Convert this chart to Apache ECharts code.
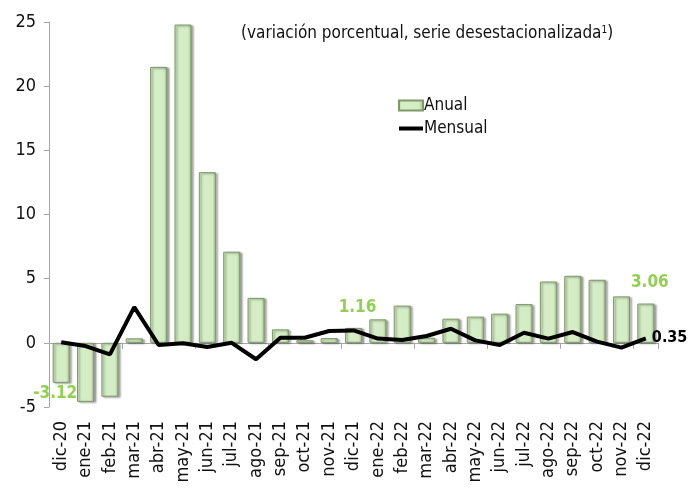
<!DOCTYPE html>
<html>
<head>
<meta charset="utf-8">
<script src="https://cdn.jsdelivr.net/npm/echarts@6/dist/echarts.min.js"></script>
<style>
  html, body { margin: 0; padding: 0; background: #fff; }
  #chart { width: 699px; height: 491px; }
</style>
</head>
<body>
<div id="chart"></div>
<script>
// months dic-20 .. dic-22
const months = ['dic-20', 'ene-21', 'feb-21', 'mar-21', 'abr-21', 'may-21', 'jun-21', 'jul-21',
  'ago-21', 'sep-21', 'oct-21', 'nov-21', 'dic-21', 'ene-22', 'feb-22', 'mar-22', 'abr-22',
  'may-22', 'jun-22', 'jul-22', 'ago-22', 'sep-22', 'oct-22', 'nov-22', 'dic-22'];

// annual change (bars)
const anual = [-3.12, -4.6, -4.2, 0.35, 21.5, 24.8, 13.3, 7.1, 3.5, 1.05, 0.2, 0.37, 1.16,
  1.83, 2.9, 0.4, 1.88, 2.04, 2.27, 3.02, 4.78, 5.22, 4.91, 3.62, 3.06];

// monthly change (line)
const mensual = [0.05, -0.25, -0.9, 2.78, -0.17, -0.04, -0.33, 0.0, -1.28, 0.4, 0.4, 0.92, 0.97,
  0.33, 0.22, 0.53, 1.1, 0.19, -0.17, 0.79, 0.33, 0.84, 0.09, -0.37, 0.35];

// which bars carry a value label
const labelledBars = [0, 12, 24];

const FONT = "'DejaVu Sans Condensed', 'Liberation Sans Narrow', 'DejaVu Sans', sans-serif";
const green = '#92d050';

const barFill = new echarts.graphic.LinearGradient(0, 0, 1, 0, [
  { offset: 0, color: '#b5d1a2' },
  { offset: 0.15, color: '#d6eec7' },
  { offset: 0.8, color: '#d3ecc3' },
  { offset: 1, color: '#9dbb88' }
]);

const barData = anual.map((v, i) => {
  const item = { value: v };
  if (labelledBars.includes(i)) {
    item.label = {
      show: true,
      position: v < 0 ? 'bottom' : 'top',
      distance: v < 0 ? 2 : 10,
      offset: v < 0 ? [-6, 0] : [4, -2],
      color: green,
      fontWeight: 'bold',
      fontSize: 17,
      fontFamily: FONT,
      formatter: p => p.value.toFixed(2)
    };
  }
  return item;
});

const lineData = mensual.map((v, i) => {
  const item = { value: v };
  if (i === mensual.length - 1) {
    item.label = {
      show: true,
      position: 'right',
      distance: 6,
      color: '#000',
      fontWeight: 'bold',
      fontSize: 16,
      fontFamily: FONT,
      formatter: p => p.value.toFixed(2)
    };
  }
  return item;
});

const chart = echarts.init(document.getElementById('chart'), null, { renderer: 'canvas' });

chart.setOption({
  animation: false,
  backgroundColor: '#fff',
  textStyle: { fontFamily: FONT },
  title: {
    text: '{a|(variación porcentual, serie desestacionalizada}{s|1}{a|)}',
    left: 236,
    top: 20,
    textStyle: {
      fontWeight: 'normal',
      rich: {
        a: { fontSize: 17, color: '#111', fontFamily: FONT, fontWeight: 'normal' },
        s: { fontSize: 10, color: '#111', fontFamily: FONT, fontWeight: 'normal', verticalAlign: 'top', padding: [0, 0, 8, 0] }
      }
    }
  },
  legend: {
    orient: 'vertical',
    left: 393,
    top: 92,
    itemWidth: 24,
    itemHeight: 10,
    itemGap: 6,
    textStyle: { fontSize: 17, color: '#111', fontFamily: FONT, padding: [0, 0, 0, -4] },
    data: [
      { name: 'Anual', icon: 'rect' },
      { name: 'Mensual', icon: 'path://M0 0 H24 V4 H0 Z', itemStyle: { color: '#000' } }
    ]
  },
  grid: { left: 49, right: 41, top: 22, bottom: 84, containLabel: false },
  xAxis: [
    {
      type: 'category',
      data: months,
      position: 'bottom',
      axisLine: { show: false, onZero: false },
      axisTick: { show: false },
      axisLabel: {
        rotate: 90,
        margin: 14,
        fontSize: 18,
        color: '#111',
        fontFamily: FONT,
        interval: 0
      }
    },
    {
      type: 'category',
      data: months,
      position: 'top',
      axisLine: { show: true, onZero: true, lineStyle: { color: '#a6a6a6', width: 1 } },
      axisTick: { show: true, inside: true, length: 6, lineStyle: { color: '#a6a6a6' } },
      axisLabel: { show: false }
    }
  ],
  yAxis: {
    type: 'value',
    min: -5,
    max: 25,
    interval: 5,
    axisLine: { show: true, lineStyle: { color: '#a6a6a6' } },
    axisTick: { show: true, length: 5, lineStyle: { color: '#a6a6a6' } },
    splitLine: { show: false },
    axisLabel: { fontSize: 18, color: '#111', margin: 13, fontFamily: FONT }
  },
  series: [
    {
      name: 'Anual',
      type: 'bar',
      xAxisIndex: 0,
      data: barData,
      barWidth: '70%',
      itemStyle: {
        color: barFill,
        borderColor: '#7e9a6a',
        borderWidth: 1,
        shadowColor: 'rgba(0,0,0,0.35)',
        shadowBlur: 2,
        shadowOffsetX: 2,
        shadowOffsetY: 1
      },
      z: 2
    },
    {
      name: 'Mensual',
      type: 'line',
      xAxisIndex: 0,
      data: lineData,
      showSymbol: true,
      symbol: 'circle',
      symbolSize: 0.1,
      itemStyle: { color: '#000' },
      lineStyle: { color: '#000', width: 4 },
      z: 3
    }
  ]
});
</script>
</body>
</html>
